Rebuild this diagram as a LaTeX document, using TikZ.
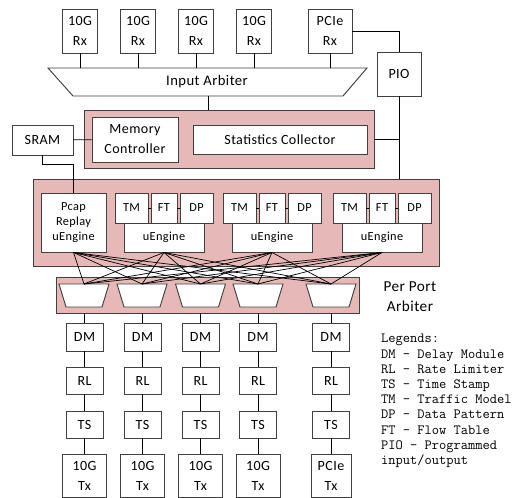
\documentclass[tikz,border=0pt]{standalone}
\usepackage{fontspec}
\setmainfont{Carlito}[LetterSpace=3]
\definecolor{pinkfill}{RGB}{230,185,184}

\begin{document}
\begin{tikzpicture}[x=0.3mm, y=-0.3mm,
  blk/.style={draw=black!75, fill=white, line width=0.8pt, inner sep=0pt, align=center, font=\fontsize{12}{17}\selectfont},
  eng/.style={blk, font=\fontsize{10.5}{13}\selectfont},
  trap/.style={draw=black!75, fill=white, line width=0.8pt},
  pinkarea/.style={draw=black!75, fill=pinkfill, line width=0.8pt, inner sep=0pt},
  wire/.style={draw=black, line width=0.6pt}]
\useasboundingbox (0,0) rectangle (519,498);

% receive side
\foreach \x [count=\i] in {80,138,196,254}
  \node[blk, minimum width=10.5mm, minimum height=13.2mm] (rx\i) at (\x,31) {10G\\Rx};
\node[blk, minimum width=13.2mm, minimum height=13.2mm] (rx5) at (330,31) {PCIe\\Rx};
\draw[trap] (48,68) -- (367,68) -- (343,96) -- (73,96) -- cycle;
\node[font=\fontsize{12.5}{15}\selectfont] (inarb) at (207,82) {Input Arbiter};
\coordinate (inarbtop) at (207,68);
\coordinate (inarbbot) at (208,96);
\foreach \i in {1,...,5}
  \draw[wire] (rx\i.south) -- (rx\i |- inarbtop);
\node[blk, minimum width=13.2mm, minimum height=13.2mm] (pio) at (399,74) {PIO};
\draw[wire] (rx5.east) -| (pio.north);

% memory and statistics
\node[pinkarea, minimum width=87mm, minimum height=17.4mm] (memarea) at (229,139) {};
\draw[wire] (inarbbot) -- (inarbbot |- memarea.north);
\node[blk, minimum width=25.8mm, minimum height=13.5mm] (memctl) at (135,139.5) {Memory\\Controller};
\node[blk, minimum width=52.2mm, minimum height=8.7mm] (stats) at (280,139.5) {Statistics Collector};
\node[blk, minimum width=18.3mm, minimum height=9mm] (sram) at (42.5,140) {SRAM};
\draw[wire] (sram) -- (memctl);

% engines
\node[pinkarea, minimum width=121.8mm, minimum height=26.1mm] (engarea) at (236,222.5) {};
\draw[wire] (pio.south) -- (pio |- engarea.north);
\draw[wire] (memarea.east) -- (memarea.east -| pio);
\node[eng, minimum width=19.5mm, minimum height=17.7mm] (pcap) at (73.5,222.5) {Pcap\\Replay\\uEngine};
\draw[wire] (sram.south) -- ++(0,9) -| (pcap.north);
\foreach \dx [count=\i] in {0,108,218} {
  \node[eng, minimum width=9.9mm, minimum height=9mm] (tm\i) at (131.5+\dx,208) {TM};
  \node[eng, minimum width=7.8mm, minimum height=9mm] (ft\i) at (164+\dx,208) {FT};
  \node[eng, minimum width=9.9mm, minimum height=9mm] (dp\i) at (196.5+\dx,208) {DP};
  \node[eng, minimum width=24mm, minimum height=8.7mm] (ue\i) at (164+\dx,237.5) {uEngine};
  \draw[wire] (tm\i) -- (ft\i) (ft\i) -- (dp\i);
}

% per port arbiters
\node[pinkarea, minimum width=90.9mm, minimum height=10.8mm] (arbarea) at (207.5,295) {};
\foreach \x [count=\i] in {84,142,200.5,258,331} {
  \draw[trap] (\x-25,284) -- (\x+25,284) -- (\x+18,307) -- (\x-18,307) -- cycle;
  \coordinate (arb\i) at (\x,284);
}
\foreach \s in {pcap,ue1,ue2,ue3}
  \foreach \i in {1,...,5}
    \draw[wire] (\s.south) -- (arb\i);
\node[align=center, font=\fontsize{13}{17}\selectfont] (ppa) at (410,297) {Per Port\\Arbiter};

% transmit side
\foreach \x [count=\i] in {84.5,142.5,200.5,258,331} {
  \node[blk, minimum width=11.1mm, minimum height=8.4mm] (dm\i) at (\x,337) {DM};
  \node[blk, minimum width=11.1mm, minimum height=8.1mm] (rl\i) at (\x,380.5) {RL};
  \node[blk, minimum width=11.1mm, minimum height=8.1mm] (ts\i) at (\x,424.5) {TS};
  \draw[wire] (dm\i |- arbarea.south) -- (dm\i) (dm\i) -- (rl\i) (rl\i) -- (ts\i);
}
\foreach \x [count=\i] in {84.5,142.5,200.5,258}
  \node[blk, minimum width=13.2mm, minimum height=12.9mm] (tx\i) at (\x,475.5) {10G\\Tx};
\node[blk, minimum width=12mm, minimum height=12.9mm] (tx5) at (331,475.5) {PCIe\\Tx};
\foreach \i in {1,...,5}
  \draw[wire] (ts\i) -- (tx\i);

% legend
\node[anchor=north west, align=left, inner sep=0pt, font=\ttfamily\fontsize{12}{13}\selectfont] (legend) at (381,334)
  {Legends:\\DM - Delay Module\\RL - Rate Limiter\\TS - Time Stamp\\TM - Traffic Model\\DP - Data Pattern\\FT - Flow Table\\PIO - Programmed\\input/output};
\end{tikzpicture}
\end{document}
